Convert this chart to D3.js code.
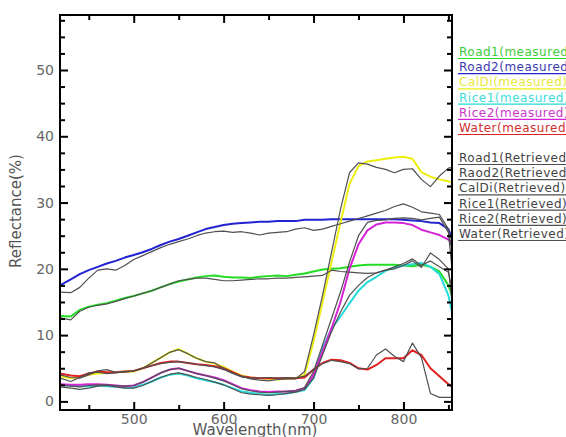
<!DOCTYPE html>
<html>
<head>
<meta charset="utf-8">
<script src="https://cdn.jsdelivr.net/npm/d3@7"></script>
<style>
  body { margin: 0; background: #fff; }
  svg { display: block; }
</style>
</head>
<body>
<svg id="chart" width="566" height="437"></svg>
<script>
// Sample wavelengths (nm) shared by every spectrum
const wavelengths = [418, 430, 440, 450, 460, 470, 480, 490, 500, 510, 520, 530, 540, 550, 560, 570, 580, 590, 600,
  610, 620, 630, 640, 650, 660, 670, 680, 690, 700, 710, 720, 730, 740, 750, 760, 770, 780, 790, 800,
  810, 820, 830, 840, 850, 854];

// Measured reflectance (%)
const road1Measured = [12.9, 12.8, 13.8, 14.3, 14.6, 14.8, 15.2, 15.6, 15.9, 16.3, 16.7, 17.2, 17.7, 18.1, 18.4, 18.7, 18.9, 19.0, 18.8,
  18.7, 18.7, 18.6, 18.8, 18.9, 19.0, 18.9, 19.1, 19.3, 19.6, 19.9, 20.0, 20.1, 20.3, 20.5, 20.6, 20.6, 20.6, 20.6, 20.5,
  20.4, 20.6, 20.3, 19.6, 17.5, 16.0];
const road2Measured = [17.5, 18.4, 19.2, 19.8, 20.3, 20.8, 21.2, 21.7, 22.1, 22.5, 23.0, 23.6, 24.1, 24.5, 25.0, 25.5, 26.0, 26.3, 26.6,
  26.8, 26.9, 27.0, 27.1, 27.1, 27.2, 27.2, 27.2, 27.4, 27.4, 27.4, 27.5, 27.5, 27.5, 27.5, 27.5, 27.5, 27.5, 27.5, 27.4,
  27.3, 27.2, 27.0, 26.9, 26.0, 24.5];
const calDiMeasured = [3.8, 3.5, 3.7, 4.0, 4.2, 4.3, 4.4, 4.5, 4.5, 5.0, 5.8, 6.6, 7.4, 7.9, 7.2, 6.5, 6.0, 5.7, 5.2,
  4.5, 3.9, 3.6, 3.5, 3.4, 3.3, 3.4, 3.5, 4.0, 9.0, 15.0, 21.0, 27.0, 32.8, 35.5, 36.2, 36.4, 36.6, 36.8, 36.9,
  36.6, 34.6, 33.9, 33.5, 33.2, 33.0];
const rice1Measured = [2.5, 2.4, 2.3, 2.3, 2.4, 2.3, 2.2, 2.1, 2.1, 2.5, 3.0, 3.6, 4.0, 4.2, 3.9, 3.5, 3.2, 2.9, 2.5,
  2.0, 1.5, 1.3, 1.1, 1.0, 1.1, 1.2, 1.4, 1.7, 3.5, 8.0, 11.0, 12.8, 14.8, 16.7, 18.0, 18.8, 19.7, 20.2, 20.5,
  20.7, 20.9, 20.3, 19.2, 16.0, 13.5];
const rice2Measured = [2.6, 2.5, 2.5, 2.6, 2.6, 2.5, 2.4, 2.3, 2.4, 2.9, 3.6, 4.3, 4.8, 5.0, 4.6, 4.2, 3.9, 3.6, 3.2,
  2.6, 2.0, 1.7, 1.5, 1.4, 1.5, 1.5, 1.6, 2.0, 4.0, 7.5, 11.0, 15.0, 20.0, 23.7, 25.8, 26.7, 27.0, 27.0, 26.9,
  26.6, 25.9, 25.5, 25.1, 24.4, 24.0];
const waterMeasured = [4.2, 3.9, 3.8, 4.2, 4.5, 4.4, 4.4, 4.5, 4.6, 5.0, 5.4, 5.8, 6.0, 6.0, 5.8, 5.6, 5.5, 5.3, 5.0,
  4.4, 3.8, 3.6, 3.5, 3.5, 3.5, 3.5, 3.5, 3.6, 4.8, 5.8, 6.3, 6.2, 5.8, 5.0, 4.8, 5.5, 6.5, 6.5, 6.5,
  7.7, 7.0, 5.0, 3.8, 2.6, 2.2];

// Retrieved reflectance (%)
const road1Retrieved = [12.6, 12.3, 13.6, 14.2, 14.5, 14.7, 15.1, 15.5, 15.9, 16.3, 16.7, 17.2, 17.7, 18.2, 18.4, 18.6, 18.6, 18.4, 18.2,
  18.2, 18.3, 18.4, 18.5, 18.5, 18.6, 18.6, 18.7, 18.8, 18.9, 19.0, 19.8, 19.6, 19.5, 19.4, 19.3, 19.4, 19.8, 20.3, 20.8,
  21.5, 20.5, 21.2, 20.3, 19.5, 17.0];
const road2Retrieved = [16.5, 16.4, 17.2, 18.6, 19.8, 20.0, 19.8, 20.5, 21.4, 22.0, 22.6, 23.2, 23.7, 24.1, 24.5, 25.0, 25.4, 25.6, 25.7,
  25.5, 25.6, 25.4, 25.1, 25.4, 25.5, 25.6, 26.0, 26.2, 25.8, 26.0, 26.4, 26.8, 27.2, 27.6, 28.0, 28.4, 28.8, 29.4, 29.8,
  29.3, 28.6, 28.4, 28.2, 26.0, 22.5];
const calDiRetrieved = [3.5, 3.0, 3.6, 4.3, 4.4, 4.2, 4.3, 4.5, 4.6, 5.0, 5.8, 6.6, 7.4, 7.8, 7.2, 6.5, 6.0, 5.8, 5.0,
  4.3, 3.8, 3.4, 3.2, 3.1, 3.3, 3.4, 3.4, 4.5, 10.0, 16.0, 22.5, 29.0, 34.5, 36.0, 35.8, 35.3, 35.0, 34.5, 35.0,
  35.1, 33.5, 32.4, 34.0, 35.2, 35.3];
const rice1Retrieved = [2.2, 2.0, 1.8, 2.0, 2.3, 2.4, 2.2, 2.0, 2.0, 2.4, 3.0, 3.6, 4.1, 4.3, 4.0, 3.6, 3.3, 2.9, 2.5,
  1.9, 1.3, 1.1, 1.0, 0.9, 1.0, 1.2, 1.4, 1.8, 3.5, 7.0, 10.5, 13.5, 16.0, 17.5, 18.7, 19.4, 19.8, 20.0, 20.5,
  21.2, 20.2, 22.4, 21.4, 20.0, 15.0];
const rice2Retrieved = [2.4, 2.3, 2.2, 2.4, 2.5, 2.5, 2.4, 2.3, 2.4, 2.9, 3.6, 4.3, 4.8, 5.0, 4.6, 4.2, 3.9, 3.5, 3.1,
  2.5, 1.9, 1.6, 1.4, 1.3, 1.4, 1.5, 1.6, 2.1, 4.5, 8.5, 12.5, 16.5, 21.0, 25.0, 27.0, 27.3, 27.4, 27.6, 27.7,
  27.6, 27.4, 27.6, 27.8, 25.5, 20.0];
const waterRetrieved = [4.0, 3.6, 3.5, 4.0, 4.6, 4.8, 4.4, 4.4, 4.6, 5.0, 5.4, 5.7, 5.9, 6.0, 5.8, 5.6, 5.4, 5.2, 4.8,
  4.2, 3.7, 3.5, 3.5, 3.6, 3.5, 3.6, 3.5, 3.8, 4.8, 5.7, 6.2, 6.0, 5.7, 4.9, 5.0, 7.0, 7.9, 6.8, 6.0,
  8.8, 6.6, 1.2, 0.6, 0.6, 0.6];

// Legend labels and colours
const measuredLabels = ["Road1(measured)", "Road2(measured)", "CalDi(measured)", "Rice1(measured)", "Rice2(measured)", "Water(measured)"];
const retrievedLabels = ["Road1(Retrieved)", "Raod2(Retrieved)", "CalDi(Retrieved)", "Rice1(Retrieved)", "Rice2(Retrieved)", "Water(Retrieved)"];
const measuredColors = ["#22dd22", "#2222d0", "#eeee10", "#22dada", "#d522d5", "#e02020"];
const legendTextColors = ["#3ccc3c", "#3a3ab0", "#e8e83a", "#40dcdc", "#cc36cc", "#d03030"];
const retrievedColor = "#505050";

// Axis ticks
const xMajorTicks = [500, 600, 700, 800];
const xMinorTicks = [450, 550, 650, 750, 850];
const yMajorTicks = [0, 10, 20, 30, 40, 50];
const yMinorTicks = [2.5, 5, 7.5, 12.5, 15, 17.5, 22.5, 25, 27.5, 32.5, 35, 37.5, 42.5, 45, 47.5, 52.5, 55, 57.5];

const measured = [road1Measured, road2Measured, calDiMeasured, rice1Measured, rice2Measured, waterMeasured];
const retrieved = [road1Retrieved, road2Retrieved, calDiRetrieved, rice1Retrieved, rice2Retrieved, waterRetrieved];

const svg = d3.select("#chart");
const plotLeft = 60, plotRight = 452, plotTop = 15, plotBottom = 410;

const x = d3.scaleLinear().domain([418, 854]).range([plotLeft, plotRight]);
const y = d3.scaleLinear().domain([-1.3, 58.3]).range([plotBottom, plotTop]);

svg.append("defs").append("clipPath").attr("id", "plot-clip")
  .append("rect").attr("x", plotLeft).attr("y", plotTop)
  .attr("width", plotRight - plotLeft).attr("height", plotBottom - plotTop);

const line = d3.line()
  .x((d, i) => x(wavelengths[i]))
  .y(d => y(d));

const plot = svg.append("g").attr("clip-path", "url(#plot-clip)");

measured.forEach((vals, k) => {
  plot.append("path")
    .datum(vals)
    .attr("d", line)
    .attr("fill", "none")
    .attr("stroke", measuredColors[k])
    .attr("stroke-width", 2)
    .attr("stroke-linejoin", "round");
});
retrieved.forEach(vals => {
  plot.append("path")
    .datum(vals)
    .attr("d", line)
    .attr("fill", "none")
    .attr("stroke", retrievedColor)
    .attr("stroke-width", 1.2)
    .attr("stroke-linejoin", "round");
});

// Axes: ticks pointing inward on all four sides
function styleAxis(g) {
  g.select(".domain").remove();
  g.selectAll(".tick line").attr("stroke", "#000").attr("stroke-width", 2);
  g.selectAll(".tick text")
    .attr("fill", "#666")
    .style("font-family", "'DejaVu Sans', sans-serif")
    .style("font-size", "14px");
}

svg.append("g").attr("transform", `translate(0,${plotBottom})`)
  .call(d3.axisBottom(x).tickValues(xMajorTicks).tickSize(-8).tickPadding(4).tickFormat(d3.format("d")))
  .call(styleAxis);
svg.append("g").attr("transform", `translate(0,${plotBottom})`)
  .call(d3.axisBottom(x).tickValues(xMinorTicks).tickSize(-5).tickFormat(""))
  .call(styleAxis);
svg.append("g").attr("transform", `translate(0,${plotTop})`)
  .call(d3.axisTop(x).tickValues(xMajorTicks).tickSize(-8).tickFormat(""))
  .call(styleAxis);
svg.append("g").attr("transform", `translate(0,${plotTop})`)
  .call(d3.axisTop(x).tickValues(xMinorTicks).tickSize(-5).tickFormat(""))
  .call(styleAxis);

svg.append("g").attr("transform", `translate(${plotLeft},0)`)
  .call(d3.axisLeft(y).tickValues(yMajorTicks).tickSize(-8).tickPadding(6).tickFormat(d3.format("d")))
  .call(styleAxis);
svg.append("g").attr("transform", `translate(${plotLeft},0)`)
  .call(d3.axisLeft(y).tickValues(yMinorTicks).tickSize(-5).tickFormat(""))
  .call(styleAxis);
svg.append("g").attr("transform", `translate(${plotRight},0)`)
  .call(d3.axisRight(y).tickValues(yMajorTicks).tickSize(-8).tickFormat(""))
  .call(styleAxis);
svg.append("g").attr("transform", `translate(${plotRight},0)`)
  .call(d3.axisRight(y).tickValues(yMinorTicks).tickSize(-5).tickFormat(""))
  .call(styleAxis);

// Plot frame
svg.append("rect")
  .attr("x", plotLeft).attr("y", plotTop)
  .attr("width", plotRight - plotLeft).attr("height", plotBottom - plotTop)
  .attr("fill", "none").attr("stroke", "#000").attr("stroke-width", 2);

// Axis titles
svg.append("text")
  .attr("x", (plotLeft + plotRight) / 2 - 1).attr("y", 435)
  .attr("text-anchor", "middle")
  .attr("fill", "#555")
  .style("font-family", "'DejaVu Sans', sans-serif").style("font-size", "15px")
  .text("Wavelength(nm)");
svg.append("text")
  .attr("transform", "translate(21,211) rotate(-90)")
  .attr("text-anchor", "middle")
  .attr("fill", "#555")
  .style("font-family", "'DejaVu Sans', sans-serif").style("font-size", "15px")
  .text("Reflectance(%)");

// Legend: underlined labels to the right of the frame
const legend = svg.append("g")
  .style("font-family", "'DejaVu Sans', sans-serif")
  .style("font-size", "12px")
  .style("letter-spacing", "0.5px");
const rowStep = 15.2;
measuredLabels.forEach((label, k) => {
  const by = 56 + k * rowStep;
  legend.append("text").attr("x", 459).attr("y", by).attr("fill", legendTextColors[k]).text(label);
  legend.append("line").attr("x1", 458).attr("x2", 566).attr("y1", by + 2.5).attr("y2", by + 2.5)
    .attr("stroke", measuredColors[k]).attr("stroke-width", 1.2);
});
retrievedLabels.forEach((label, k) => {
  const by = 162 + k * rowStep;
  legend.append("text").attr("x", 459).attr("y", by).attr("fill", "#444").text(label);
  legend.append("line").attr("x1", 458).attr("x2", 566).attr("y1", by + 2.5).attr("y2", by + 2.5)
    .attr("stroke", retrievedColor).attr("stroke-width", 1.2);
});
</script>
</body>
</html>
